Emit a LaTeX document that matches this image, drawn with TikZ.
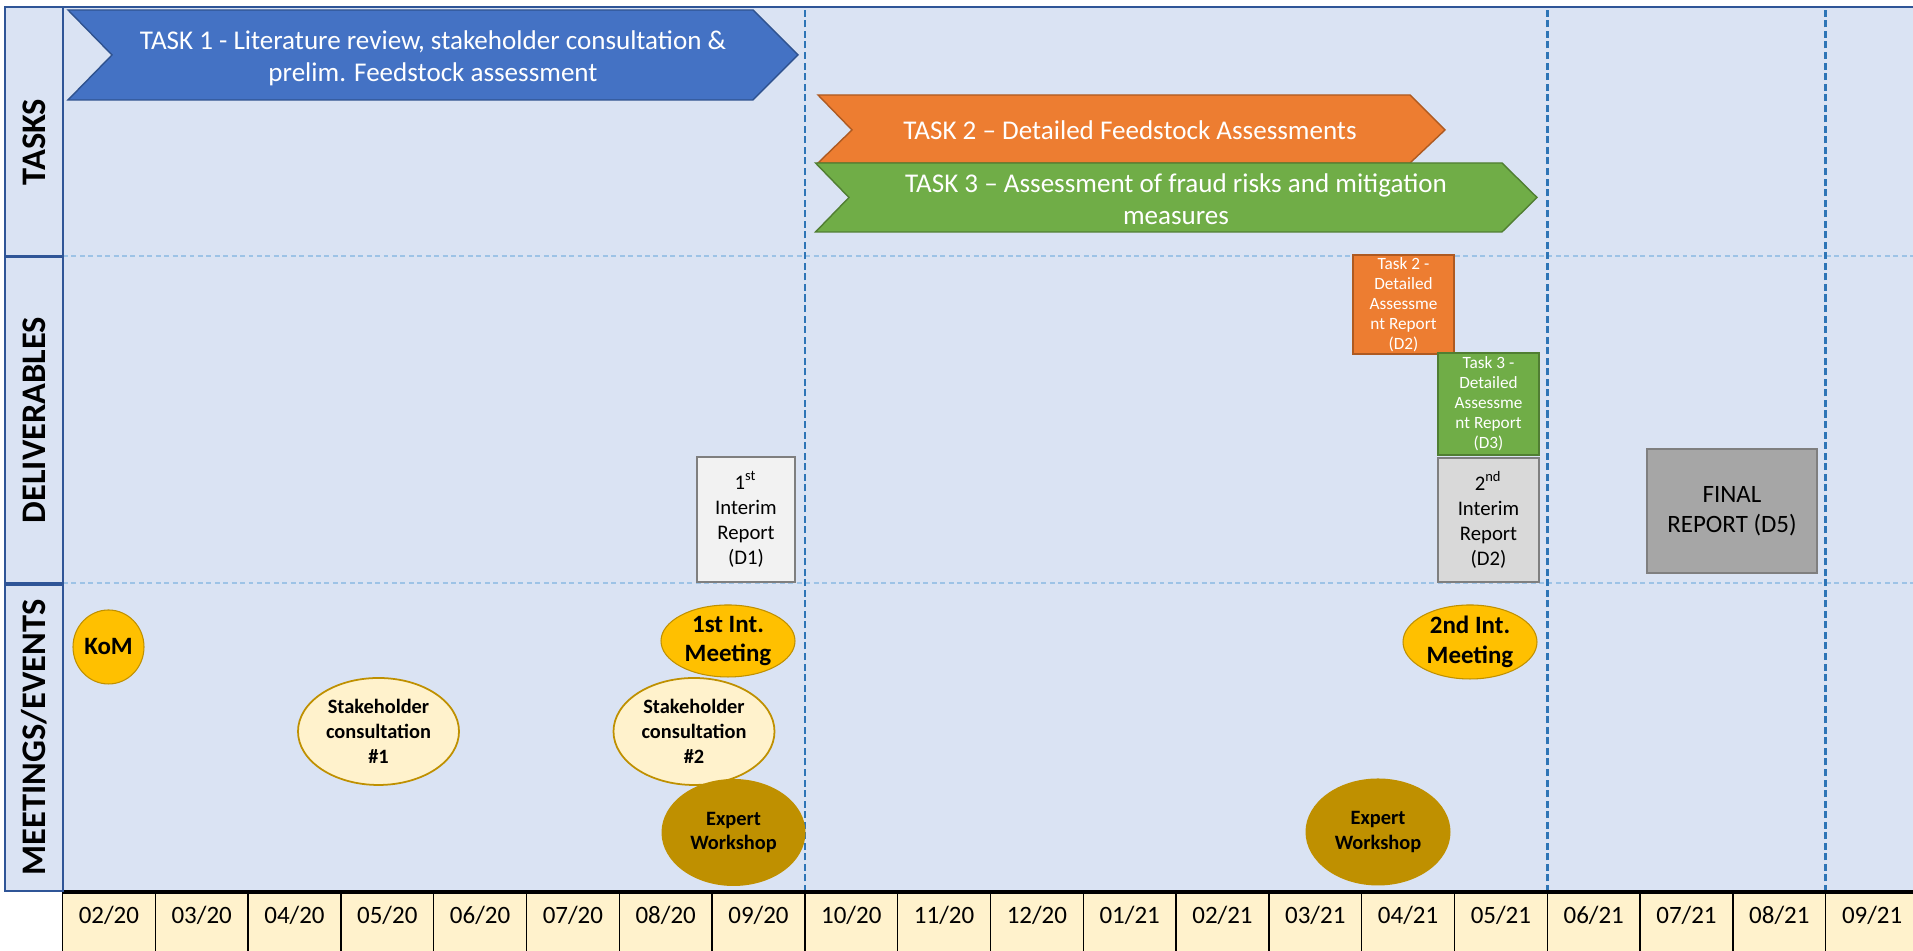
\documentclass[tikz,border=0pt]{standalone}
\usepackage{fontspec}
\setmainfont{Carlito}
\usetikzlibrary{shapes.geometric}
\definecolor{bgblue}{HTML}{DAE3F3}
\definecolor{frameblue}{HTML}{2F5597}
\definecolor{dashblue}{HTML}{2E75B6}
\definecolor{lightdash}{HTML}{9DC3E6}
\definecolor{taskblue}{HTML}{4472C4}
\definecolor{taskblueline}{HTML}{2F528F}
\definecolor{taskorange}{HTML}{ED7D31}
\definecolor{taskorangeline}{HTML}{AE5A21}
\definecolor{taskgreen}{HTML}{70AD47}
\definecolor{taskgreenline}{HTML}{507E32}
\definecolor{meetgold}{HTML}{FFC000}
\definecolor{darkgold}{HTML}{BF9000}
\definecolor{cream}{HTML}{FFF2CC}
\definecolor{repline}{HTML}{7F7F7F}
\begin{document}
\begin{tikzpicture}[
  lanebox/.style={fill=bgblue,draw=frameblue,line width=.8pt},
  lanelabel/.style={rotate=90,inner sep=0pt,font=\fontsize{9.8}{11}\selectfont\bfseries},
  monthcell/.style={fill=cream,draw=black,line width=.4pt},
  monthlabel/.style={inner sep=0pt,font=\fontsize{7.1}{8}\selectfont},
  rowsep/.style={draw=lightdash,line width=.4pt,dash pattern=on 1.4pt off 1pt},
  phasesep/.style={draw=dashblue,line width=.8pt,dash pattern=on 2pt off 1pt},
  tasktext/.style={text=white,align=center,inner sep=0pt,font=\fontsize{7.7}{9}\selectfont},
  taskreport/.style={text=white,align=center,inner sep=0pt,line width=.5pt,font=\fontsize{4.9}{5.7}\selectfont},
  interim/.style={draw=repline,line width=.6pt,align=center,inner sep=0pt,font=\fontsize{5.9}{7.1}\selectfont},
  meetbig/.style={ellipse,fill=meetgold,draw=darkgold,line width=.3pt,align=center,inner sep=0pt,font=\fontsize{7.1}{8.5}\selectfont\bfseries},
  stakeholder/.style={ellipse,fill=cream,draw=darkgold,line width=.5pt,align=center,inner sep=0pt,minimum width=1.61cm,minimum height=1.07cm,font=\fontsize{5.8}{7.1}\selectfont\bfseries},
  workshop/.style={ellipse,fill=darkgold,align=center,inner sep=0pt,minimum height=1.07cm,font=\fontsize{5.8}{7.1}\selectfont\bfseries}]
\useasboundingbox (0,0) rectangle (19.13,9.51);
\path[fill=bgblue] (0.63,0.59) rectangle (19.13,9.45);
\path[rowsep] (0.63,6.95) -- (19.13,6.95);
\path[rowsep] (0.63,3.68) -- (19.13,3.68);
\path[phasesep] (8.049,0.59) -- (8.049,9.45);
\path[phasesep] (15.473,0.59) -- (15.473,9.45);
\path[phasesep] (18.257,0.59) -- (18.257,9.45);
\path[fill=taskblue,draw=taskblueline,line width=.4pt] (0.68,9.41) -- (7.53,9.41) -- (7.98,8.96) -- (7.53,8.51) -- (0.68,8.51) -- (1.12,8.96) -- cycle;
\node[tasktext] (task1) at (4.33,8.93) {TASK 1 - Literature review, stakeholder consultation \&\\prelim. Feedstock assessment};
\path[fill=taskorange,draw=taskorangeline,line width=.4pt] (8.18,8.56) -- (14.10,8.56) -- (14.45,8.21) -- (14.10,7.88) -- (8.18,7.88) -- (8.52,8.21) -- cycle;
\node[tasktext] (task2) at (11.30,8.21) {TASK 2 -- Detailed Feedstock Assessments};
\path[fill=taskgreen,draw=taskgreenline,line width=.4pt] (8.155,7.88) -- (15.02,7.88) -- (15.37,7.535) -- (15.02,7.19) -- (8.155,7.19) -- (8.49,7.535) -- cycle;
\node[tasktext] (task3) at (11.76,7.52) {TASK 3 -- Assessment of fraud risks and mitigation\\measures};
\node[taskreport,fill=taskorange,draw=taskorangeline,minimum width=1.01cm,minimum height=.99cm] (rep2) at (14.035,6.465) {Task 2 -\\Detailed\\Assessme\\nt Report\\(D2)};
\node[taskreport,fill=taskgreen,draw=taskgreenline,minimum width=1.01cm,minimum height=1.02cm] (rep3) at (14.885,5.47) {Task 3 -\\Detailed\\Assessme\\nt Report\\(D3)};
\node[interim,fill=black!5,minimum width=.98cm,minimum height=1.25cm] (interim1) at (7.46,4.315) {1\textsuperscript{st}\\Interim\\Report\\(D1)};
\node[interim,fill=black!15,minimum width=1.01cm,minimum height=1.24cm] (interim2) at (14.885,4.31) {2\textsuperscript{nd}\\Interim\\Report\\(D2)};
\node[interim,fill=black!35,minimum width=1.70cm,minimum height=1.24cm,font=\fontsize{7.1}{8.5}\selectfont] (final) at (17.32,4.40) {FINAL\\REPORT (D5)};
\node[meetbig,minimum width=.71cm,minimum height=.74cm] (kom) at (1.085,3.04) {KoM};
\node[stakeholder] (stake1) at (3.785,2.195) {Stakeholder\\consultation\\\#1};
\node[stakeholder] (stake2) at (6.94,2.195) {Stakeholder\\consultation\\\#2};
\node[meetbig,minimum width=1.34cm,minimum height=.72cm] (meet1) at (7.28,3.10) {1st Int.\\Meeting};
\node[workshop,minimum width=1.44cm] (expert1) at (7.335,1.185) {Expert\\Workshop};
\node[meetbig,minimum width=1.34cm,minimum height=.74cm] (meet2) at (14.70,3.09) {2nd Int.\\Meeting};
\node[workshop,minimum width=1.45cm] (expert2) at (13.78,1.19) {Expert\\Workshop};
\path[monthcell] (0.625,-0.1) rectangle (1.553,0.59);
\node[monthlabel] (m0220) at (1.089,0.36) {02/20};
\path[monthcell] (1.553,-0.1) rectangle (2.481,0.59);
\node[monthlabel] (m0320) at (2.017,0.36) {03/20};
\path[monthcell] (2.481,-0.1) rectangle (3.409,0.59);
\node[monthlabel] (m0420) at (2.945,0.36) {04/20};
\path[monthcell] (3.409,-0.1) rectangle (4.337,0.59);
\node[monthlabel] (m0520) at (3.873,0.36) {05/20};
\path[monthcell] (4.337,-0.1) rectangle (5.265,0.59);
\node[monthlabel] (m0620) at (4.801,0.36) {06/20};
\path[monthcell] (5.265,-0.1) rectangle (6.193,0.59);
\node[monthlabel] (m0720) at (5.729,0.36) {07/20};
\path[monthcell] (6.193,-0.1) rectangle (7.121,0.59);
\node[monthlabel] (m0820) at (6.657,0.36) {08/20};
\path[monthcell] (7.121,-0.1) rectangle (8.049,0.59);
\node[monthlabel] (m0920) at (7.585,0.36) {09/20};
\path[monthcell] (8.049,-0.1) rectangle (8.977,0.59);
\node[monthlabel] (m1020) at (8.513,0.36) {10/20};
\path[monthcell] (8.977,-0.1) rectangle (9.905,0.59);
\node[monthlabel] (m1120) at (9.441,0.36) {11/20};
\path[monthcell] (9.905,-0.1) rectangle (10.833,0.59);
\node[monthlabel] (m1220) at (10.369,0.36) {12/20};
\path[monthcell] (10.833,-0.1) rectangle (11.761,0.59);
\node[monthlabel] (m0121) at (11.297,0.36) {01/21};
\path[monthcell] (11.761,-0.1) rectangle (12.689,0.59);
\node[monthlabel] (m0221) at (12.225,0.36) {02/21};
\path[monthcell] (12.689,-0.1) rectangle (13.617,0.59);
\node[monthlabel] (m0321) at (13.153,0.36) {03/21};
\path[monthcell] (13.617,-0.1) rectangle (14.545,0.59);
\node[monthlabel] (m0421) at (14.081,0.36) {04/21};
\path[monthcell] (14.545,-0.1) rectangle (15.473,0.59);
\node[monthlabel] (m0521) at (15.009,0.36) {05/21};
\path[monthcell] (15.473,-0.1) rectangle (16.401,0.59);
\node[monthlabel] (m0621) at (15.937,0.36) {06/21};
\path[monthcell] (16.401,-0.1) rectangle (17.329,0.59);
\node[monthlabel] (m0721) at (16.865,0.36) {07/21};
\path[monthcell] (17.329,-0.1) rectangle (18.257,0.59);
\node[monthlabel] (m0821) at (17.793,0.36) {08/21};
\path[monthcell] (18.257,-0.1) rectangle (19.185,0.59);
\node[monthlabel] (m0921) at (18.721,0.36) {09/21};
\draw[black,line width=1pt] (0.625,0.59) -- (19.13,0.59);
\path[lanebox] (0.05,6.95) rectangle (0.63,9.44);
\node[lanelabel] (lanetasks) at (0.345,8.09) {TASKS};
\path[lanebox] (0.05,3.68) rectangle (0.63,6.94);
\node[lanelabel] (lanedeliv) at (0.34,5.31) {DELIVERABLES};
\path[lanebox] (0.05,0.60) rectangle (0.63,3.66);
\node[lanelabel] (lanemeet) at (0.34,2.135) {MEETINGS/EVENTS};
\draw[frameblue,line width=.8pt] (0.05,9.44) -- (19.13,9.44);
\end{tikzpicture}
\end{document}
